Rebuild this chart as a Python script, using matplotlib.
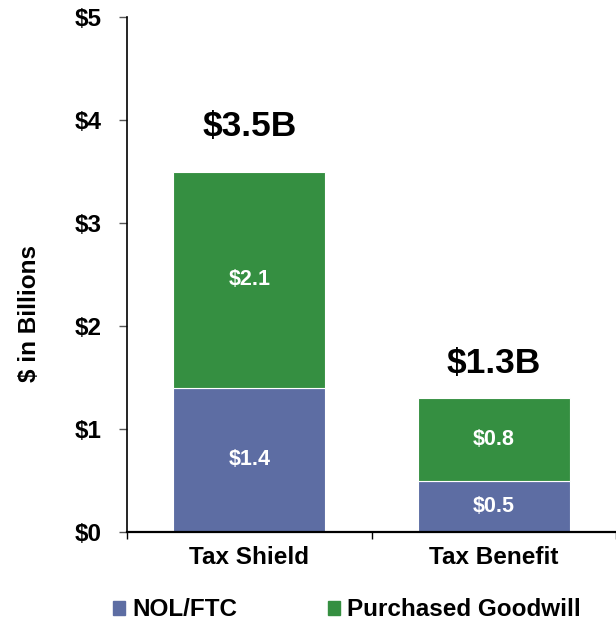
import matplotlib.pyplot as plt
from matplotlib.patches import Patch
import numpy as np

# data
categories = ['Tax Shield', 'Tax Benefit']
nol_ftc = [1.4, 0.5]
goodwill = [2.1, 0.8]
totals_text = ['$3.5B', '$1.3B']

blue = '#5D6DA3'
green = '#358F41'

plt.rcParams['font.family'] = ['Liberation Sans', 'DejaVu Sans']
plt.rcParams['font.weight'] = 'bold'

fig = plt.figure(figsize=(6.16, 6.23), dpi=100)
ax = fig.add_axes([127 / 616, 91 / 623, 489 / 616, 515 / 623])

x = np.arange(len(categories)) + 0.5
ax.bar(x, nol_ftc, width=0.623, color=blue, edgecolor='white', linewidth=0.8)
ax.bar(x, goodwill, bottom=nol_ftc, width=0.623, color=green, edgecolor='white', linewidth=0.8)

# values inside the bars
for i in range(len(categories)):
    ax.text(x[i], nol_ftc[i] / 2, '$' + str(nol_ftc[i]), ha='center', va='center',
            color='white', fontsize=15.5, fontweight='bold')
    ax.text(x[i], nol_ftc[i] + goodwill[i] / 2, '$' + str(goodwill[i]), ha='center', va='center',
            color='white', fontsize=15.5, fontweight='bold')

# totals above bars
offsets = [0.44, 0.34]
for i in range(len(categories)):
    total = nol_ftc[i] + goodwill[i]
    ax.text(x[i], total + offsets[i], totals_text[i], ha='center', va='center',
            fontsize=25.5, fontweight='bold')

ax.set_xlim(0, 1.94)
ax.set_ylim(0, 5)
ax.set_yticks(range(6))
ax.set_yticklabels(['$' + str(v) for v in range(6)], fontsize=17.5, fontweight='bold')
ax.set_xticks([0, 1, 2])
ax.set_xticklabels([])
ax.set_xticks(x, minor=True)
ax.set_xticklabels(categories, minor=True, fontsize=17.5, fontweight='bold')
ax.tick_params(axis='x', which='minor', length=0, pad=10)
ax.tick_params(axis='x', which='major', length=5, width=1)
ax.tick_params(axis='y', length=6, width=1, color='#555555', pad=12)

ax.spines['top'].set_visible(False)
ax.spines['right'].set_visible(False)
ax.spines['left'].set_linewidth(1.2)
ax.spines['bottom'].set_linewidth(1.6)

fig.text(30 / 616, 1 - 313 / 623, '$ in Billions', rotation=90, ha='center', va='center',
         fontsize=17.5, fontweight='bold')

handles = [Patch(color=blue, label='NOL/FTC'), Patch(color=green, label='Purchased Goodwill')]
fig.legend(handles=handles, loc='center', bbox_to_anchor=(347 / 616, 1 - 610 / 623), ncol=2,
           frameon=False, fontsize=17.5, handlelength=0.5, handleheight=0.5,
           handletextpad=0.3, columnspacing=3.7)

plt.savefig('out.png', dpi=100)
